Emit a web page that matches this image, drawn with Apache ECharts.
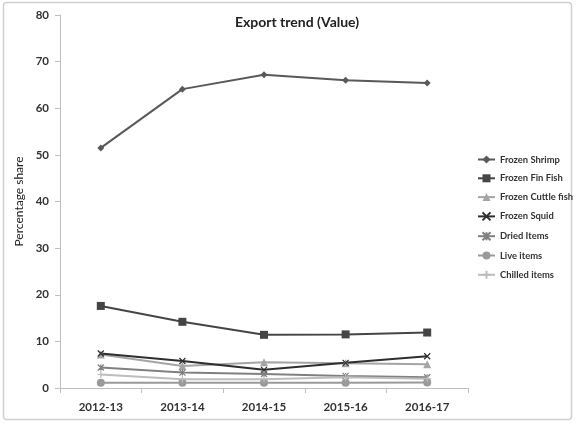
<!DOCTYPE html>
<html>
<head>
<meta charset="utf-8">
<script src="https://cdn.jsdelivr.net/npm/echarts@6/dist/echarts.min.js"></script>
<style>
  html, body { margin: 0; padding: 0; background: #fff; }
  #chart { width: 576px; height: 425px; }
</style>
</head>
<body>
<div id="chart"></div>
<script>
// Financial years on the category axis
const years = ['2012-13', '2013-14', '2014-15', '2015-16', '2016-17'];
const yTicks = [0, 10, 20, 30, 40, 50, 60, 70, 80];

// Percentage share of export value per product group
const frozenShrimp = [51.5, 64.1, 67.2, 66.0, 65.4];
const frozenFinFish = [17.6, 14.2, 11.4, 11.5, 11.9];
const frozenCuttleFish = [7.2, 4.7, 5.5, 5.3, 5.1];
const frozenSquid = [7.4, 5.8, 3.9, 5.4, 6.8];
const driedItems = [4.4, 3.3, 3.0, 2.6, 2.3];
const liveItems = [1.1, 1.1, 1.1, 1.1, 1.2];
const chilledItems = [2.9, 1.9, 1.9, 2.3, 2.0];

const FONT = 'Lato';
const SYM_X = 'path://M0,0L10,10M10,0L0,10';
const SYM_STAR = 'path://M0,0L10,10M10,0L0,10M5,0L5,10';
const SYM_PLUS = 'path://M5,0L5,10M0,5L10,5';

function makeSeries(name, data, color, symbol, size, stroke) {
  return {
    name: name,
    type: 'line',
    data: data,
    symbol: symbol,
    symbolSize: size,
    showSymbol: true,
    lineStyle: { color: color, width: 2 },
    itemStyle: stroke
      ? { color: color, borderColor: color, borderWidth: 1.2 }
      : { color: color, borderWidth: 0 },
    emphasis: { disabled: true },
    animation: false
  };
}

const chart = echarts.init(document.getElementById('chart'), null, { renderer: 'canvas' });
chart.setOption({
  backgroundColor: '#fff',
  title: {
    text: 'Export trend (Value)',
    left: 292,
    top: 10,
    textAlign: 'center',
    textStyle: { fontFamily: FONT, fontSize: 14, fontWeight: 'bold', color: '#222' }
  },
  graphic: [{
    type: 'rect',
    shape: { x: 3.5, y: 2.5, width: 568, height: 417, r: 3 },
    style: { fill: 'none', stroke: '#d0d0d0', lineWidth: 1.5 },
    silent: true,
    z: -1
  }],
  legend: {
    orient: 'vertical',
    left: 477,
    top: 155,
    padding: 0,
    itemGap: 9.8,
    itemWidth: 17,
    itemHeight: 10,
    textStyle: { fontFamily: FONT, fontSize: 9.4, fontWeight: 'bold', color: '#333' },
    data: ['Frozen Shrimp', 'Frozen Fin Fish', 'Frozen Cuttle fish', 'Frozen Squid', 'Dried Items', 'Live items', 'Chilled items']
  },
  grid: { left: 60, right: 108, top: 15, bottom: 37, containLabel: false },
  xAxis: {
    type: 'category',
    data: years,
    boundaryGap: true,
    axisLine: { lineStyle: { color: '#bfbfbf', width: 1 } },
    axisTick: { show: true, length: 5, lineStyle: { color: '#bfbfbf' } },
    axisLabel: { margin: 13, fontFamily: FONT, fontSize: 11.5, fontWeight: 'bold', color: '#333' }
  },
  yAxis: {
    type: 'value',
    min: yTicks[0],
    max: yTicks[yTicks.length - 1],
    interval: 10,
    name: 'Percentage share',
    nameLocation: 'middle',
    nameRotate: 90,
    nameGap: 34,
    nameTextStyle: { fontFamily: FONT, fontSize: 12, color: '#222' },
    axisLine: { show: true, lineStyle: { color: '#bfbfbf', width: 1 } },
    axisTick: { show: true, length: 5, lineStyle: { color: '#bfbfbf' } },
    splitLine: { show: false },
    axisLabel: { margin: 11, fontFamily: FONT, fontSize: 11.5, fontWeight: 'bold', color: '#333' }
  },
  series: [
    makeSeries('Frozen Shrimp', frozenShrimp, '#595959', 'diamond', 7, false),
    makeSeries('Frozen Fin Fish', frozenFinFish, '#454545', 'rect', 8, false),
    makeSeries('Frozen Cuttle fish', frozenCuttleFish, '#a5a5a5', 'triangle', 8, false),
    makeSeries('Frozen Squid', frozenSquid, '#2e2e2e', SYM_X, 6, true),
    makeSeries('Dried Items', driedItems, '#808080', SYM_STAR, 6, true),
    makeSeries('Live items', liveItems, '#9a9a9a', 'circle', 8, false),
    makeSeries('Chilled items', chilledItems, '#bdbdbd', SYM_PLUS, 7, true)
  ]
});
</script>
</body>
</html>
